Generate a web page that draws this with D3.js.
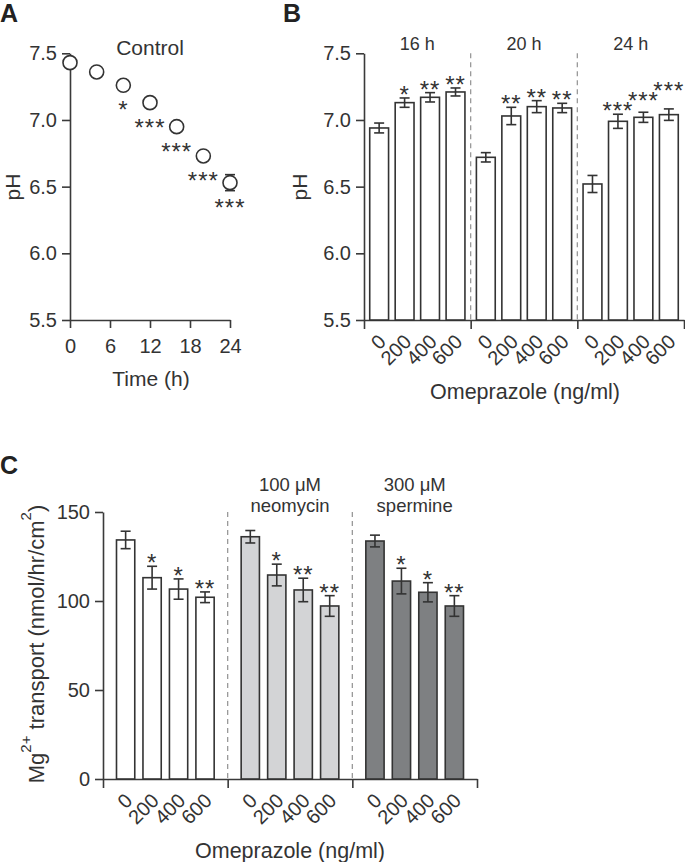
<!DOCTYPE html>
<html>
<head>
<meta charset="utf-8">
<script src="https://cdn.jsdelivr.net/npm/d3@7"></script>
<style>
  body { margin: 0; background: #fff; }
  svg text { font-family: "Liberation Sans", Arial, sans-serif; fill: #333; }
  .axis path, .axis line { stroke: #3a3a3a; stroke-width: 1.6; }
  .axis text { font-size: 20px; fill: #333; }
</style>
</head>
<body>
<div id="chart"></div>
<script>
// panel A: control pH over time
const timeHours = [0, 4, 8, 12, 16, 20, 24];
const controlPH = [7.43, 7.36, 7.26, 7.13, 6.95, 6.73, 6.53];
const controlErr = [0.02, 0.02, 0.02, 0.03, 0.03, 0.03, 0.06];
const controlSig = ["", "", "*", "***", "***", "***", "***"];
const timeTicks = [0, 6, 12, 18, 24];
const phTicks = [5.5, 6.0, 6.5, 7.0, 7.5];

// panel B: pH with omeprazole at 16/20/24 h
const doses = ["0", "200", "400", "600"];
const bTimes = ["16 h", "20 h", "24 h"];
const bPH = [
  [6.94, 7.13, 7.17, 7.21],
  [6.72, 7.03, 7.10, 7.09],
  [6.52, 6.99, 7.02, 7.04]
];
const bErr = [
  [0.037, 0.035, 0.035, 0.03],
  [0.035, 0.065, 0.045, 0.035],
  [0.064, 0.053, 0.038, 0.043]
];
const bSig = [
  ["", "*", "**", "**"],
  ["", "**", "**", "**"],
  ["", "***", "***", "***"]
];

// panel C: Mg2+ transport
const cGroups = ["control", "neomycin", "spermine"];
const cHeaders = [[], ["100 \u03bcM", "neomycin"], ["300 \u03bcM", "spermine"]];
const cMg = [
  [134.3, 113.1, 106.7, 102.1],
  [136.1, 114.6, 106.2, 97.2],
  [133.7, 111.2, 104.9, 97.2]
];
const cErr = [
  [4.9, 6.4, 5.7, 3.0],
  [3.5, 6.1, 6.6, 5.8],
  [3.3, 7.2, 5.4, 5.8]
];
const cSig = [
  ["", "*", "*", "**"],
  ["", "*", "**", "**"],
  ["", "*", "*", "**"]
];
const mgTicks = [0, 50, 100, 150];
const cFill = ["#ffffff", "#d3d4d6", "#7e8082"];

const W = 685, H = 862;
const ink = "#333";
const starSize = 24;

const svg = d3.select("#chart").append("svg")
  .attr("width", W).attr("height", H);

function starText(g, x, yCenter, txt) {
  return g.append("text")
    .attr("x", x).attr("y", yCenter + starSize * 0.58)
    .attr("text-anchor", "middle")
    .style("font-size", starSize + "px")
    .style("letter-spacing", "1px")
    .text(txt);
}

function errBar(g, x, yLo, yHi, cap) {
  g.append("line").attr("x1", x).attr("x2", x).attr("y1", yLo).attr("y2", yHi)
    .attr("stroke", ink).attr("stroke-width", 1.6);
  [yLo, yHi].forEach(yy => {
    g.append("line").attr("x1", x - cap / 2).attr("x2", x + cap / 2)
      .attr("y1", yy).attr("y2", yy)
      .attr("stroke", ink).attr("stroke-width", 1.6);
  });
}

function panelLetter(x, y, l) {
  svg.append("text").attr("x", x).attr("y", y)
    .style("font-size", "25px").style("font-weight", "bold")
    .style("fill", "#222").text(l);
}

// ---------- Panel A ----------
const ax = d3.scaleLinear().domain([0, 24]).range([70, 230]);
const ay = d3.scaleLinear().domain([5.5, 7.5]).range([320, 53.3]);
const gA = svg.append("g");

gA.append("g").attr("class", "axis")
  .attr("transform", "translate(70,0)")
  .call(d3.axisLeft(ay).tickValues(phTicks).tickFormat(d3.format(".1f"))
    .tickSize(8).tickSizeOuter(0).tickPadding(5));
gA.append("g").attr("class", "axis")
  .attr("transform", "translate(0,320)")
  .call(d3.axisBottom(ax).tickValues(timeTicks).tickSize(8).tickSizeOuter(0).tickPadding(11));

timeHours.forEach((t, i) => {
  const cx = ax(t);
  errBar(gA, cx, ay(controlPH[i] - controlErr[i]), ay(controlPH[i] + controlErr[i]), 10);
  gA.append("circle").attr("cx", cx).attr("cy", ay(controlPH[i])).attr("r", 7)
    .attr("fill", "#fff").attr("stroke", ink).attr("stroke-width", 1.6);
  if (controlSig[i]) starText(gA, cx, ay(controlPH[i]) + 19, controlSig[i]);
});

gA.append("text").attr("x", 150).attr("y", 55).attr("text-anchor", "middle")
  .style("font-size", "21px").text("Control");
gA.append("text").attr("x", 151).attr("y", 386).attr("text-anchor", "middle")
  .style("font-size", "21px").text("Time (h)");
gA.append("text").attr("transform", "translate(20,187) rotate(-90)")
  .attr("text-anchor", "middle").style("font-size", "21px").text("pH");
panelLetter(0, 22, "A");

// ---------- grouped bar helper ----------
function groupedBars(opt) {
  const g = svg.append("g");
  const outer = d3.scaleBand().domain(d3.range(opt.values.length)).range([opt.x0, opt.x1]);
  const inner = d3.scaleBand().domain(doses).range([0, outer.bandwidth()])
    .paddingInner(opt.pi).paddingOuter(opt.po);
  const y = opt.y;
  const yBot = y.range()[0], yTop = y.range()[1];

  // dashed dividers
  d3.range(1, opt.values.length).forEach(k => {
    g.append("line").attr("x1", outer(k)).attr("x2", outer(k))
      .attr("y1", yTop).attr("y2", yBot)
      .attr("stroke", "#999").attr("stroke-width", 1.3).attr("stroke-dasharray", "5,4");
  });

  // y axis
  g.append("g").attr("class", "axis")
    .attr("transform", `translate(${opt.x0},0)`)
    .call(d3.axisLeft(y).tickValues(opt.ticks).tickFormat(opt.fmt)
      .tickSize(8).tickSizeOuter(0).tickPadding(5));

  // x axis: ticks at group boundaries
  const bnd = d3.scaleLinear().domain([0, opt.values.length]).range([opt.x0, opt.x1]);
  g.append("g").attr("class", "axis")
    .attr("transform", `translate(0,${yBot})`)
    .call(d3.axisBottom(bnd).tickValues(d3.range(opt.values.length + 1))
      .tickFormat("").tickSize(9).tickSizeOuter(0));

  opt.values.forEach((vals, gi) => {
    let prevStarY = null;
    vals.forEach((v, bi) => {
      const bx = outer(gi) + inner(doses[bi]);
      const bw = inner.bandwidth();
      const cx = bx + bw / 2;
      g.append("rect").attr("x", bx).attr("y", y(v))
        .attr("width", bw).attr("height", yBot - y(v))
        .attr("fill", opt.fill(gi)).attr("stroke", ink).attr("stroke-width", 1.6);
      const e = opt.err[gi][bi];
      errBar(g, cx, y(v - e), y(v + e), 10);
      const s = opt.sig[gi][bi];
      if (s) {
        let sy = y(v + e) - 9;
        const t = starText(g, cx, sy, s);
        const wide = t.node().getComputedTextLength() > inner.step();
        if (wide && prevStarY !== null) {
          sy = Math.min(sy, prevStarY - 10);
          t.attr("y", sy + starSize * 0.58);
        }
        prevStarY = sy;
      }
      // rotated dose label
      g.append("text")
        .attr("transform", `translate(${cx + 8},${yBot + 23}) rotate(-45)`)
        .attr("text-anchor", "end").style("font-size", "20px")
        .text(doses[bi]);
    });
  });
  return { g, outer };
}

// ---------- Panel B ----------
const by = d3.scaleLinear().domain([5.5, 7.5]).range([320, 53.3]);
const B = groupedBars({
  x0: 364, x1: 684, y: by, values: bPH, err: bErr, sig: bSig,
  pi: 0.26, po: 0.225, ticks: phTicks, fmt: d3.format(".1f"),
  fill: () => "#fff"
});
bTimes.forEach((t, i) => {
  B.g.append("text").attr("x", B.outer(i) + B.outer.bandwidth() / 2).attr("y", 50)
    .attr("text-anchor", "middle").style("font-size", "18px").text(t);
});
B.g.append("text").attr("x", 525).attr("y", 399).attr("text-anchor", "middle")
  .style("font-size", "21.5px").text("Omeprazole (ng/ml)");
B.g.append("text").attr("transform", "translate(307,187) rotate(-90)")
  .attr("text-anchor", "middle").style("font-size", "21px").text("pH");
panelLetter(283, 22, "B");

// ---------- Panel C ----------
const cy = d3.scaleLinear().domain([0, 150]).range([779, 512]);
const C = groupedBars({
  x0: 103, x1: 477, y: cy, values: cMg, err: cErr, sig: cSig,
  pi: 0.31, po: 0.51, ticks: mgTicks, fmt: d3.format("d"),
  fill: gi => cFill[gi]
});
cHeaders.forEach((lines, i) => {
  lines.forEach((ln, k) => {
    C.g.append("text").attr("x", C.outer(i) + C.outer.bandwidth() / 2).attr("y", 491 + k * 21)
      .attr("text-anchor", "middle").style("font-size", "18.5px").text(ln);
  });
});
C.g.append("text").attr("x", 290).attr("y", 858).attr("text-anchor", "middle")
  .style("font-size", "21.5px").text("Omeprazole (ng/ml)");

const yl = C.g.append("text").attr("transform", "translate(44,644) rotate(-90)")
  .attr("text-anchor", "middle").style("font-size", "22px");
yl.append("tspan").text("Mg");
yl.append("tspan").attr("dy", -13).style("font-size", "15px").text("2+");
yl.append("tspan").attr("dy", 13).text(" transport (nmol/hr/cm");
yl.append("tspan").attr("dy", -13).style("font-size", "15px").text("2");
yl.append("tspan").attr("dy", 13).text(")");
panelLetter(0, 474, "C");
</script>
</body>
</html>
